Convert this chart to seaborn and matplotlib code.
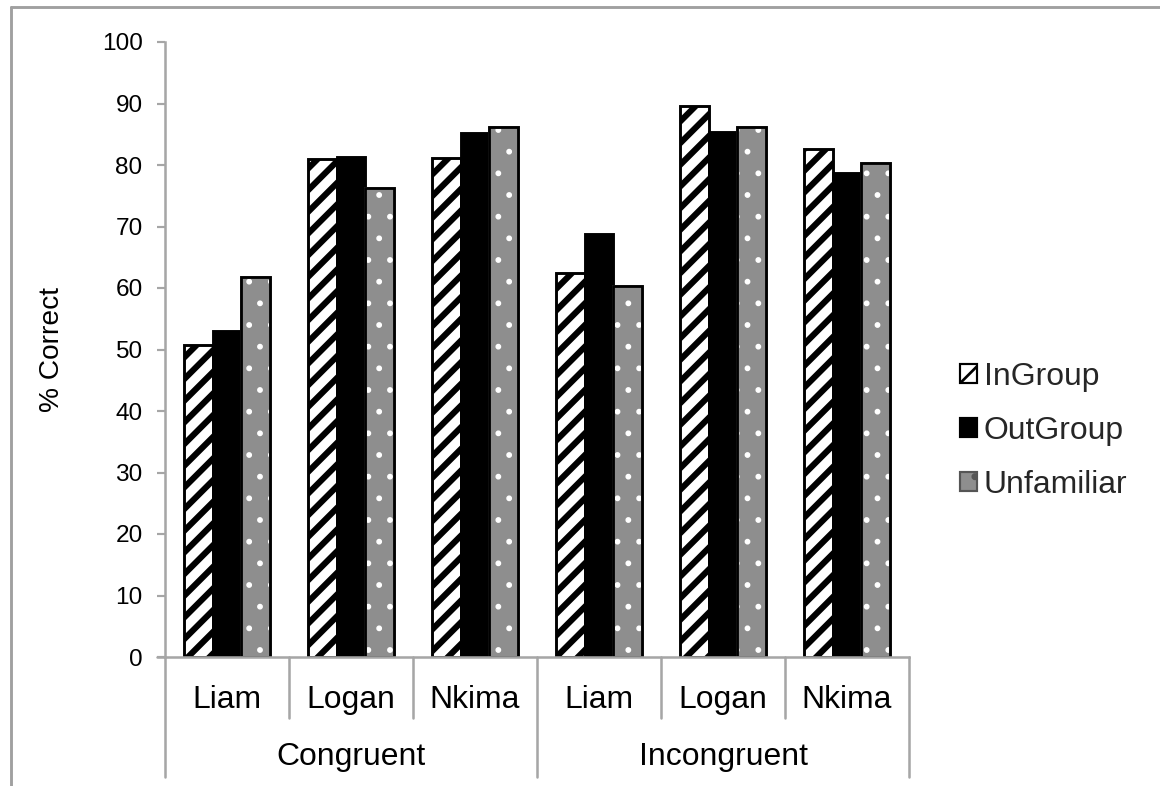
import matplotlib
matplotlib.use("Agg")
import matplotlib.pyplot as plt
import matplotlib.transforms as mtransforms
from matplotlib.patches import Rectangle
from matplotlib.lines import Line2D
import seaborn as sns
import pandas as pd

# ---- data ----
conditions = ["Congruent", "Incongruent"]
subjects = ["Liam", "Logan", "Nkima"]
groups = ["InGroup", "OutGroup", "Unfamiliar"]
ingroup = [50.7, 80.9, 81.1, 62.4, 89.6, 82.6]
outgroup = [53.0, 81.3, 85.2, 68.7, 85.3, 78.7]
unfamiliar = [61.8, 76.2, 86.1, 60.4, 86.1, 80.3]
yticks = [0, 10, 20, 30, 40, 50, 60, 70, 80, 90, 100]

keys = [f"{c}-{s}" for c in conditions for s in subjects]
rows = []
for g, vals in zip(groups, [ingroup, outgroup, unfamiliar]):
    for k, v in zip(keys, vals):
        rows.append({"key": k, "group": g, "value": v})
df = pd.DataFrame(rows)

sns.set_theme(style="white")
plt.rcParams["font.family"] = ["Liberation Sans", "DejaVu Sans"]

DPI = 130
fig = plt.figure(figsize=(1160 / DPI, 786 / DPI), dpi=DPI)
ax = fig.add_axes([165 / 1160, 1 - 657 / 786, 744 / 1160, 615 / 786])

palette = {"InGroup": "white", "OutGroup": "black", "Unfamiliar": "#8e8e8e"}
sns.barplot(data=df, x="key", y="value", hue="group", order=keys,
            hue_order=groups, palette=palette, width=0.69, saturation=1,
            edgecolor="black", linewidth=1.6, ax=ax, legend=False)

gray = "#a6a6a6"
LABEL_FS = 17.7

def set_hlw(p, lw):
    if hasattr(p, "set_hatch_linewidth"):
        p.set_hatch_linewidth(lw)

for p in ax.containers[0]:
    p.set_hatch("//")
    set_hlw(p, 3.4)
for p in ax.containers[2]:
    p.set_hatch(".")
    p.set_edgecolor("white")
    set_hlw(p, 0.8)
    ax.add_patch(Rectangle(p.get_xy(), p.get_width(), p.get_height(),
                           fill=False, edgecolor="black", linewidth=1.6,
                           zorder=p.get_zorder() + 0.1))

ax.set_ylim(0, 100)
ax.set_xlim(-0.5, len(keys) - 0.5)
ax.set_yticks(yticks)
ax.set_yticklabels([str(t) for t in yticks])
ax.tick_params(axis="y", which="both", left=True, length=4.4, width=1.2,
               color=gray, labelsize=13.5, pad=8, labelcolor="black")
ax.set_xticks([])
ax.set_xlabel("")
ax.set_ylabel("% Correct", fontsize=15.6, color="black")
ax.yaxis.set_label_coords(-0.135, 0.5)

for s in ["top", "right"]:
    ax.spines[s].set_visible(False)
for s in ["left", "bottom"]:
    ax.spines[s].set_color(gray)
    ax.spines[s].set_linewidth(1.4)

# hierarchical x axis
trans = mtransforms.blended_transform_factory(ax.transData, ax.transAxes)
n = len(keys)
short_y = -61 / 615
long_y = -120 / 615
for i in range(n + 1):
    xb = i - 0.5
    is_long = (i % len(subjects) == 0)
    ax.add_line(Line2D([xb, xb], [0, long_y if is_long else short_y],
                       transform=trans, color=gray, lw=1.4, clip_on=False))
ax.add_line(Line2D([-0.5 - 0.065, -0.5], [0, 0], transform=trans,
                   color=gray, lw=1.4, clip_on=False))
for i, k in enumerate(keys):
    ax.text(i, -43 / 615, k.split("-")[1], transform=trans, ha="center",
            va="center", fontsize=LABEL_FS, color="black")
for j, c in enumerate(conditions):
    xc = j * len(subjects) + (len(subjects) - 1) / 2
    ax.text(xc, -100 / 615, c, transform=trans, ha="center", va="center",
            fontsize=LABEL_FS, color="black")

# legend
leg_handles = []
for g in groups:
    r = Rectangle((0, 0), 1, 1, facecolor=palette[g],
                  edgecolor="white" if g == "Unfamiliar" else "black",
                  linewidth=1.2,
                  hatch={"InGroup": "//", "OutGroup": None, "Unfamiliar": "."}[g])
    leg_handles.append(r)
leg = fig.legend(leg_handles, groups, loc="center left",
                 bbox_to_anchor=(960 / 1160, 1 - 431 / 786), frameon=False,
                 fontsize=LABEL_FS, handlelength=0.52, handleheight=0.52,
                 handletextpad=0.22, labelspacing=0.75, borderpad=0,
                 borderaxespad=0)
for h in leg.legend_handles:
    set_hlw(h, 1.5)
leg.legend_handles[2].set_edgecolor("#555555")

# outer frame
fig.add_artist(Line2D([11 / 1160, 11 / 1160], [0, 1 - 7 / 786],
                      transform=fig.transFigure, color="#a0a0a0", lw=1.6))
fig.add_artist(Line2D([11 / 1160, 1], [1 - 7 / 786, 1 - 7 / 786],
                      transform=fig.transFigure, color="#a0a0a0", lw=1.6))

fig.savefig("out.png", dpi=DPI)
